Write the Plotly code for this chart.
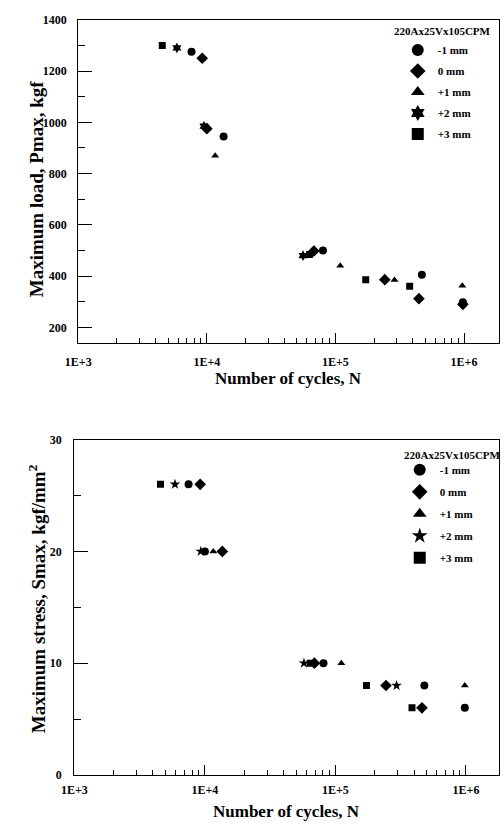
import plotly.graph_objects as go

# ---------------- data ----------------
series_names = ["-1 mm", "0 mm", "+1 mm", "+2 mm", "+3 mm"]

# Top chart: maximum load (kgf) vs cycles
top_x_m1 = [7.6e3, 1.35e4, 8.0e4, 4.7e5, 9.8e5]
top_y_m1 = [1275, 945, 500, 405, 298]
top_x_0 = [9.2e3, 1.0e4, 6.8e4, 2.42e5, 4.46e5, 9.8e5]
top_y_0 = [1250, 975, 498, 386, 312, 290]
top_x_p1 = [1.16e4, 1.09e5, 2.88e5, 9.7e5]
top_y_p1 = [870, 440, 385, 362]
top_x_p2 = [5.85e3, 9.5e3, 5.6e4]
top_y_p2 = [1290, 985, 480]
top_x_p3 = [4.5e3, 6.3e4, 1.72e5, 3.78e5]
top_y_p3 = [1300, 484, 386, 360]

# Bottom chart: maximum stress (kgf/mm2) vs cycles
bot_x_m1 = [7.5e3, 1.0e4, 8.1e4, 4.8e5, 9.8e5]
bot_y_m1 = [26, 20, 10, 8, 6]
bot_x_0 = [9.2e3, 1.36e4, 6.9e4, 2.44e5, 4.6e5]
bot_y_0 = [26, 20, 10, 8, 6]
bot_x_p1 = [1.16e4, 1.11e5, 9.8e5]
bot_y_p1 = [20, 10, 8]
bot_x_p2 = [5.9e3, 9.3e3, 5.74e4, 2.94e5]
bot_y_p2 = [26, 20, 10, 8]
bot_x_p3 = [4.57e3, 6.4e4, 1.73e5, 3.86e5]
bot_y_p3 = [26, 10, 8, 6]

x_tickvals = [1e3, 1e4, 1e5, 1e6]
x_ticktext = ["1E+3", "1E+4", "1E+5", "1E+6"]
legend_title = "220Ax25Vx105CPM"

# ---------------- figure ----------------
W, H = 502, 836
FONT = "Liberation Serif"

top_sets = [(top_x_m1, top_y_m1), (top_x_0, top_y_0), (top_x_p1, top_y_p1),
            (top_x_p2, top_y_p2), (top_x_p3, top_y_p3)]
bot_sets = [(bot_x_m1, bot_y_m1), (bot_x_0, bot_y_0), (bot_x_p1, bot_y_p1),
            (bot_x_p2, bot_y_p2), (bot_x_p3, bot_y_p3)]
top_symbols = ["circle", "diamond", "triangle-up", "hexagram", "square"]
bot_symbols = ["circle", "diamond", "triangle-up", "star", "square"]
sizes = [8, 9, 7, 8, 7]

fig = go.Figure()
for i, (xs, ys) in enumerate(top_sets):
    fig.add_trace(go.Scatter(x=xs, y=ys, mode="markers", name=series_names[i],
                             marker=dict(symbol=top_symbols[i], size=sizes[i], color="black"),
                             xaxis="x", yaxis="y", legend="legend",
                             legendgroup="t%d" % i))
for i, (xs, ys) in enumerate(bot_sets):
    fig.add_trace(go.Scatter(x=xs, y=ys, mode="markers", name=series_names[i],
                             marker=dict(symbol=bot_symbols[i], size=sizes[i], color="black"),
                             xaxis="x2", yaxis="y2", legend="legend2",
                             legendgroup="b%d" % i))

tickfont = dict(family=FONT, size=12, color="black", weight="bold")
x_minor_vals = [m * 10 ** e for e in (3, 4, 5, 6) for m in range(2, 10)]
LW = 1.2

def xaxis(domain, rng, anchor, standoff):
    return dict(type="log", domain=domain, range=rng, anchor=anchor,
                showgrid=False, zeroline=False, showline=True, linecolor="black",
                linewidth=LW, mirror=True, ticks="inside", ticklen=10, tickcolor="black",
                tickwidth=LW, tickmode="array",
                tickvals=x_tickvals, ticktext=x_ticktext, tickfont=tickfont,
                ticklabelstandoff=standoff,
                minor=dict(ticks="inside", ticklen=5, tickcolor="black", tickwidth=1,
                           tickmode="array", tickvals=x_minor_vals, showgrid=False))

def yaxis(domain, rng, anchor, dtick, minor_dtick, tick0, standoff):
    return dict(domain=domain, range=rng, anchor=anchor,
                showgrid=False, zeroline=False, showline=True, linecolor="black",
                linewidth=LW, mirror=True, ticks="inside", ticklen=14, tickcolor="black",
                tickwidth=LW,
                tickmode="linear", tick0=tick0, dtick=dtick, tickfont=tickfont,
                ticklabelstandoff=standoff,
                minor=dict(ticks="inside", ticklen=7, tickcolor="black", tickwidth=1,
                           dtick=minor_dtick, showgrid=False))

top_dom_y = [1 - 342 / H, 1 - 13 / H]
bot_dom_y = [1 - 781 / H, 1 - 440 / H]

legend_common = dict(xanchor="left", yanchor="top", bgcolor="rgba(0,0,0,0)",
                     font=dict(family=FONT, size=11, color="black", weight="bold"),
                     itemsizing="constant")

fig.update_layout(
    width=W, height=H,
    margin=dict(l=0, r=0, t=0, b=0),
    paper_bgcolor="white", plot_bgcolor="white",
    showlegend=True,
    xaxis=xaxis([67 / W, 499 / W], [3, 3 + 432 / 132], "y", 7),
    yaxis=yaxis(top_dom_y, [138, 1400], "x", 200, 100, 200, 8),
    xaxis2=xaxis([63 / W, 499 / W], [3, 3 + 436 / 134], "y2", 4),
    yaxis2=yaxis(bot_dom_y, [0, 30], "x2", 10, 5, 0, 9),
    legend=dict(x=395 / W, y=1 - 29 / H, tracegroupgap=2, **legend_common),
    legend2=dict(x=397 / W, y=1 - 456 / H, tracegroupgap=3, **legend_common),
)

titlefont = dict(family=FONT, size=17, color="black", weight="bold")
ytitlefont = dict(family=FONT, size=19, color="black", weight="bold")
legtitlefont = dict(family=FONT, size=11, color="black", weight="bold")
ann = dict(xref="paper", yref="paper", showarrow=False, xanchor="center", yanchor="middle")
fig.add_annotation(text="Number of cycles, N", x=(67 + 499) / 2 / W, y=1 - 378 / H,
                   font=titlefont, **ann)
fig.add_annotation(text="Number of cycles, N", x=(63 + 499) / 2 / W, y=1 - 818 / H,
                   font=titlefont, **ann)
fig.add_annotation(text="Maximum load, Pmax, kgf", x=25 / W, y=1 - 185 / H,
                   textangle=-90, font=ytitlefont, **ann)
fig.add_annotation(text="Maximum stress, Smax, kgf/mm<sup>2</sup>", x=25 / W, y=1 - 602 / H,
                   textangle=-90, font=ytitlefont, **ann)
fig.add_annotation(text=legend_title, x=441 / W, y=1 - 24 / H, font=legtitlefont, **ann)
fig.add_annotation(text=legend_title, x=451 / W, y=1 - 456 / H, font=legtitlefont, **ann)

fig.write_html("out.html", config={"displayModeBar": False},
               post_script="document.body.style.margin='0';"
                           "document.documentElement.style.overflow='hidden';")
